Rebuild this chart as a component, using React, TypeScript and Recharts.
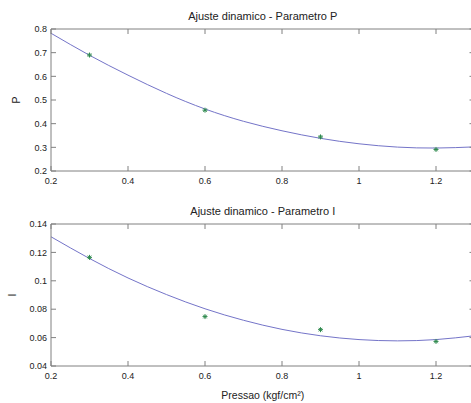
import React from 'react';
import { ComposedChart, Line, Scatter, XAxis, YAxis } from 'recharts';

const xTicks = [0.2, 0.4, 0.6, 0.8, 1, 1.2];
const xDomain: [number, number] = [0.2, 1.3];

const pTicks = [0.2, 0.3, 0.4, 0.5, 0.6, 0.7, 0.8];
const iTicks = [0.04, 0.06, 0.08, 0.1, 0.12, 0.14];

// measured points (green stars)
const pressures = [0.3, 0.6, 0.9, 1.2];
const pMeasured = [0.69, 0.457, 0.344, 0.291];
const iMeasured = [0.1165, 0.0748, 0.0656, 0.0573];

// fitted curve
const fitX = [0.2, 0.3, 0.4, 0.5, 0.6, 0.7, 0.8, 0.9, 1.0, 1.1, 1.2, 1.3];
const pFit = [0.782, 0.689, 0.605, 0.528, 0.462, 0.41, 0.37, 0.338, 0.315, 0.301, 0.297, 0.302];
const iFit = [0.131, 0.1157, 0.102, 0.0903, 0.0803, 0.0722, 0.0658, 0.0613, 0.0586, 0.0577, 0.0586, 0.0613];

const AXIS = '#808080';
const TEXT = '#222';
const LINE = '#7474c8';
const MARK = '#2f8a4e';

const fmt = (v: number) => String(+v.toFixed(2));
const noTick = () => <g />;

const Star = (props: any) => {
  const { cx, cy } = props;
  const r = 2.5;
  const d = r * 0.7;
  return (
    <g stroke={MARK} strokeWidth={1}>
      <line x1={cx - r} y1={cy} x2={cx + r} y2={cy} />
      <line x1={cx} y1={cy - r} x2={cx} y2={cy + r} />
      <line x1={cx - d} y1={cy - d} x2={cx + d} y2={cy + d} />
      <line x1={cx - d} y1={cy + d} x2={cx + d} y2={cy - d} />
    </g>
  );
};

interface PanelProps {
  top: number;
  height: number;
  title: string;
  yLabel: string;
  yLabelDx: number;
  yDomain: [number, number];
  yTicks: number[];
  fit: number[];
  measured: number[];
  xLabel?: string;
}

function Panel({ top, height, title, yLabel, yLabelDx, yDomain, yTicks, fit, measured, xLabel }: PanelProps) {
  const fitData = fitX.map((x, i) => ({ x, v: fit[i] }));
  const pts = pressures.map((x, i) => ({ x, v: measured[i] }));
  const bottomH = height - 171;

  return (
    <div style={{ position: 'absolute', left: 0, top }}>
      <ComposedChart width={500} height={height} margin={{ top: 28, right: 24.5, bottom: 0, left: 0 }}>
        <XAxis
          xAxisId="b"
          dataKey="x"
          type="number"
          domain={xDomain}
          ticks={xTicks}
          allowDataOverflow
          height={bottomH}
          tickSize={-5}
          tickMargin={11.5}
          stroke={AXIS}
          tick={{ fontSize: 9, fill: TEXT }}
          tickFormatter={fmt}
          label={xLabel ? { value: xLabel, position: 'insideBottom', offset: 4, fontSize: 10.5, fill: TEXT } : undefined}
        />
        <XAxis
          xAxisId="t"
          dataKey="x"
          orientation="top"
          type="number"
          domain={xDomain}
          ticks={xTicks}
          allowDataOverflow
          height={1}
          tickSize={-5}
          stroke={AXIS}
          tick={noTick}
          label={{ value: title, position: 'top', offset: 8, fontSize: 11, fill: TEXT }}
        />
        <YAxis
          yAxisId="l"
          dataKey="v"
          type="number"
          domain={yDomain}
          ticks={yTicks}
          allowDataOverflow
          width={51}
          tickSize={-5}
          tickMargin={9}
          stroke={AXIS}
          tick={{ fontSize: 9, fill: TEXT }}
          tickFormatter={fmt}
          label={{ value: yLabel, angle: -90, position: 'center', dx: yLabelDx, fontSize: 10.5, fill: TEXT }}
        />
        <YAxis
          yAxisId="r"
          dataKey="v"
          orientation="right"
          type="number"
          domain={yDomain}
          ticks={yTicks}
          allowDataOverflow
          width={1}
          tickSize={-5}
          stroke={AXIS}
          tick={noTick}
        />
        <Line
          xAxisId="b"
          yAxisId="l"
          data={fitData}
          dataKey="v"
          type="natural"
          stroke={LINE}
          strokeWidth={1}
          dot={false}
          isAnimationActive={false}
        />
        {/* invisible series so the top and right frame axes get drawn */}
        <Line
          xAxisId="t"
          yAxisId="r"
          data={fitData}
          dataKey="v"
          stroke="none"
          dot={false}
          activeDot={false}
          isAnimationActive={false}
        />
        <Scatter xAxisId="b" yAxisId="l" data={pts} dataKey="v" shape={Star} isAnimationActive={false} />
      </ComposedChart>
    </div>
  );
}

export default function App() {
  return (
    <div
      style={{
        position: 'absolute',
        left: 0,
        top: 0,
        width: 471,
        height: 403,
        overflow: 'hidden',
        background: '#fff',
        fontFamily: "'Liberation Sans', Arial, sans-serif",
      }}
    >
      <Panel
        top={0}
        height={195}
        title="Ajuste dinamico - Parametro P"
        yLabel="P"
        yLabelDx={-9.5}
        yDomain={[0.2, 0.8]}
        yTicks={pTicks}
        fit={pFit}
        measured={pMeasured}
      />
      <Panel
        top={195}
        height={208}
        title="Ajuste dinamico - Parametro I"
        yLabel="I"
        yLabelDx={-13.5}
        yDomain={[0.04, 0.14]}
        yTicks={iTicks}
        fit={iFit}
        measured={iMeasured}
        xLabel="Pressao (kgf/cm²)"
      />
    </div>
  );
}
